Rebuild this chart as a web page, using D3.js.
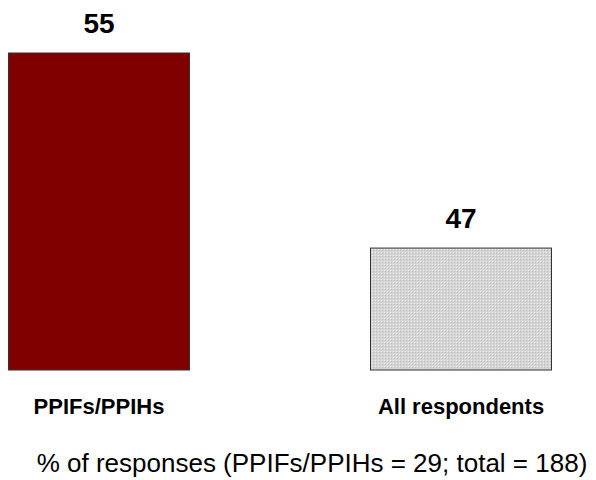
<!DOCTYPE html>
<html>
<head>
<meta charset="utf-8">
<script src="https://cdn.jsdelivr.net/npm/d3@7"></script>
<style>
  html, body { margin: 0; padding: 0; background: #fff; }
  svg { display: block; }
</style>
</head>
<body>
<script>
const categories = ["PPIFs/PPIHs", "All respondents"];
const values = [55, 47];
const footnote = "% of responses (PPIFs/PPIHs = 29; total = 188)";

const W = 596, H = 480;
const svg = d3.select("body").append("svg").attr("width", W).attr("height", H);

const defs = svg.append("defs");
const pat = defs.append("pattern").attr("id", "dots")
  .attr("patternUnits", "userSpaceOnUse").attr("width", 3).attr("height", 3);
pat.append("rect").attr("width", 3).attr("height", 3).attr("fill", "#d4d4d4");
pat.append("rect").attr("x", 0).attr("y", 0).attr("width", 1).attr("height", 1).attr("fill", "#f0f0f0");
pat.append("rect").attr("x", 1).attr("y", 1).attr("width", 1).attr("height", 1).attr("fill", "#bdbdbd");

const x = d3.scaleBand().domain(categories).range([8.5, 551.5]).paddingInner(0.5).paddingOuter(0);
const y = d3.scaleLinear().domain([42, 55]).range([370, 53]);

const fills = ["#800000", "url(#dots)"];

svg.selectAll("rect.bar").data(values).enter().append("rect")
  .attr("class", "bar")
  .attr("x", (d, i) => x(categories[i]))
  .attr("y", d => y(d))
  .attr("width", x.bandwidth())
  .attr("height", d => y.range()[0] - y(d))
  .attr("fill", (d, i) => fills[i])
  .attr("stroke", "#333")
  .attr("stroke-width", 1);

svg.selectAll("text.val").data(values).enter().append("text")
  .attr("class", "val")
  .attr("x", (d, i) => x(categories[i]) + x.bandwidth() / 2)
  .attr("y", d => y(d) - 20)
  .attr("text-anchor", "middle")
  .attr("font-family", "Liberation Sans, Arial, sans-serif")
  .attr("font-weight", "bold")
  .attr("font-size", 28)
  .attr("fill", "#000")
  .text(d => d);

const xAxis = svg.append("g").attr("transform", `translate(0,${y.range()[0]})`)
  .call(d3.axisBottom(x).tickSize(0).tickPadding(28));
xAxis.select(".domain").remove();
xAxis.selectAll("text")
  .attr("font-family", "Liberation Sans, Arial, sans-serif")
  .attr("font-weight", "bold")
  .attr("font-size", 22)
  .attr("fill", "#000");

svg.append("text")
  .attr("x", 312)
  .attr("y", 472)
  .attr("text-anchor", "middle")
  .attr("font-family", "Liberation Sans, Arial, sans-serif")
  .attr("font-size", 26)
  .attr("fill", "#000")
  .text(footnote);
</script>
</body>
</html>
